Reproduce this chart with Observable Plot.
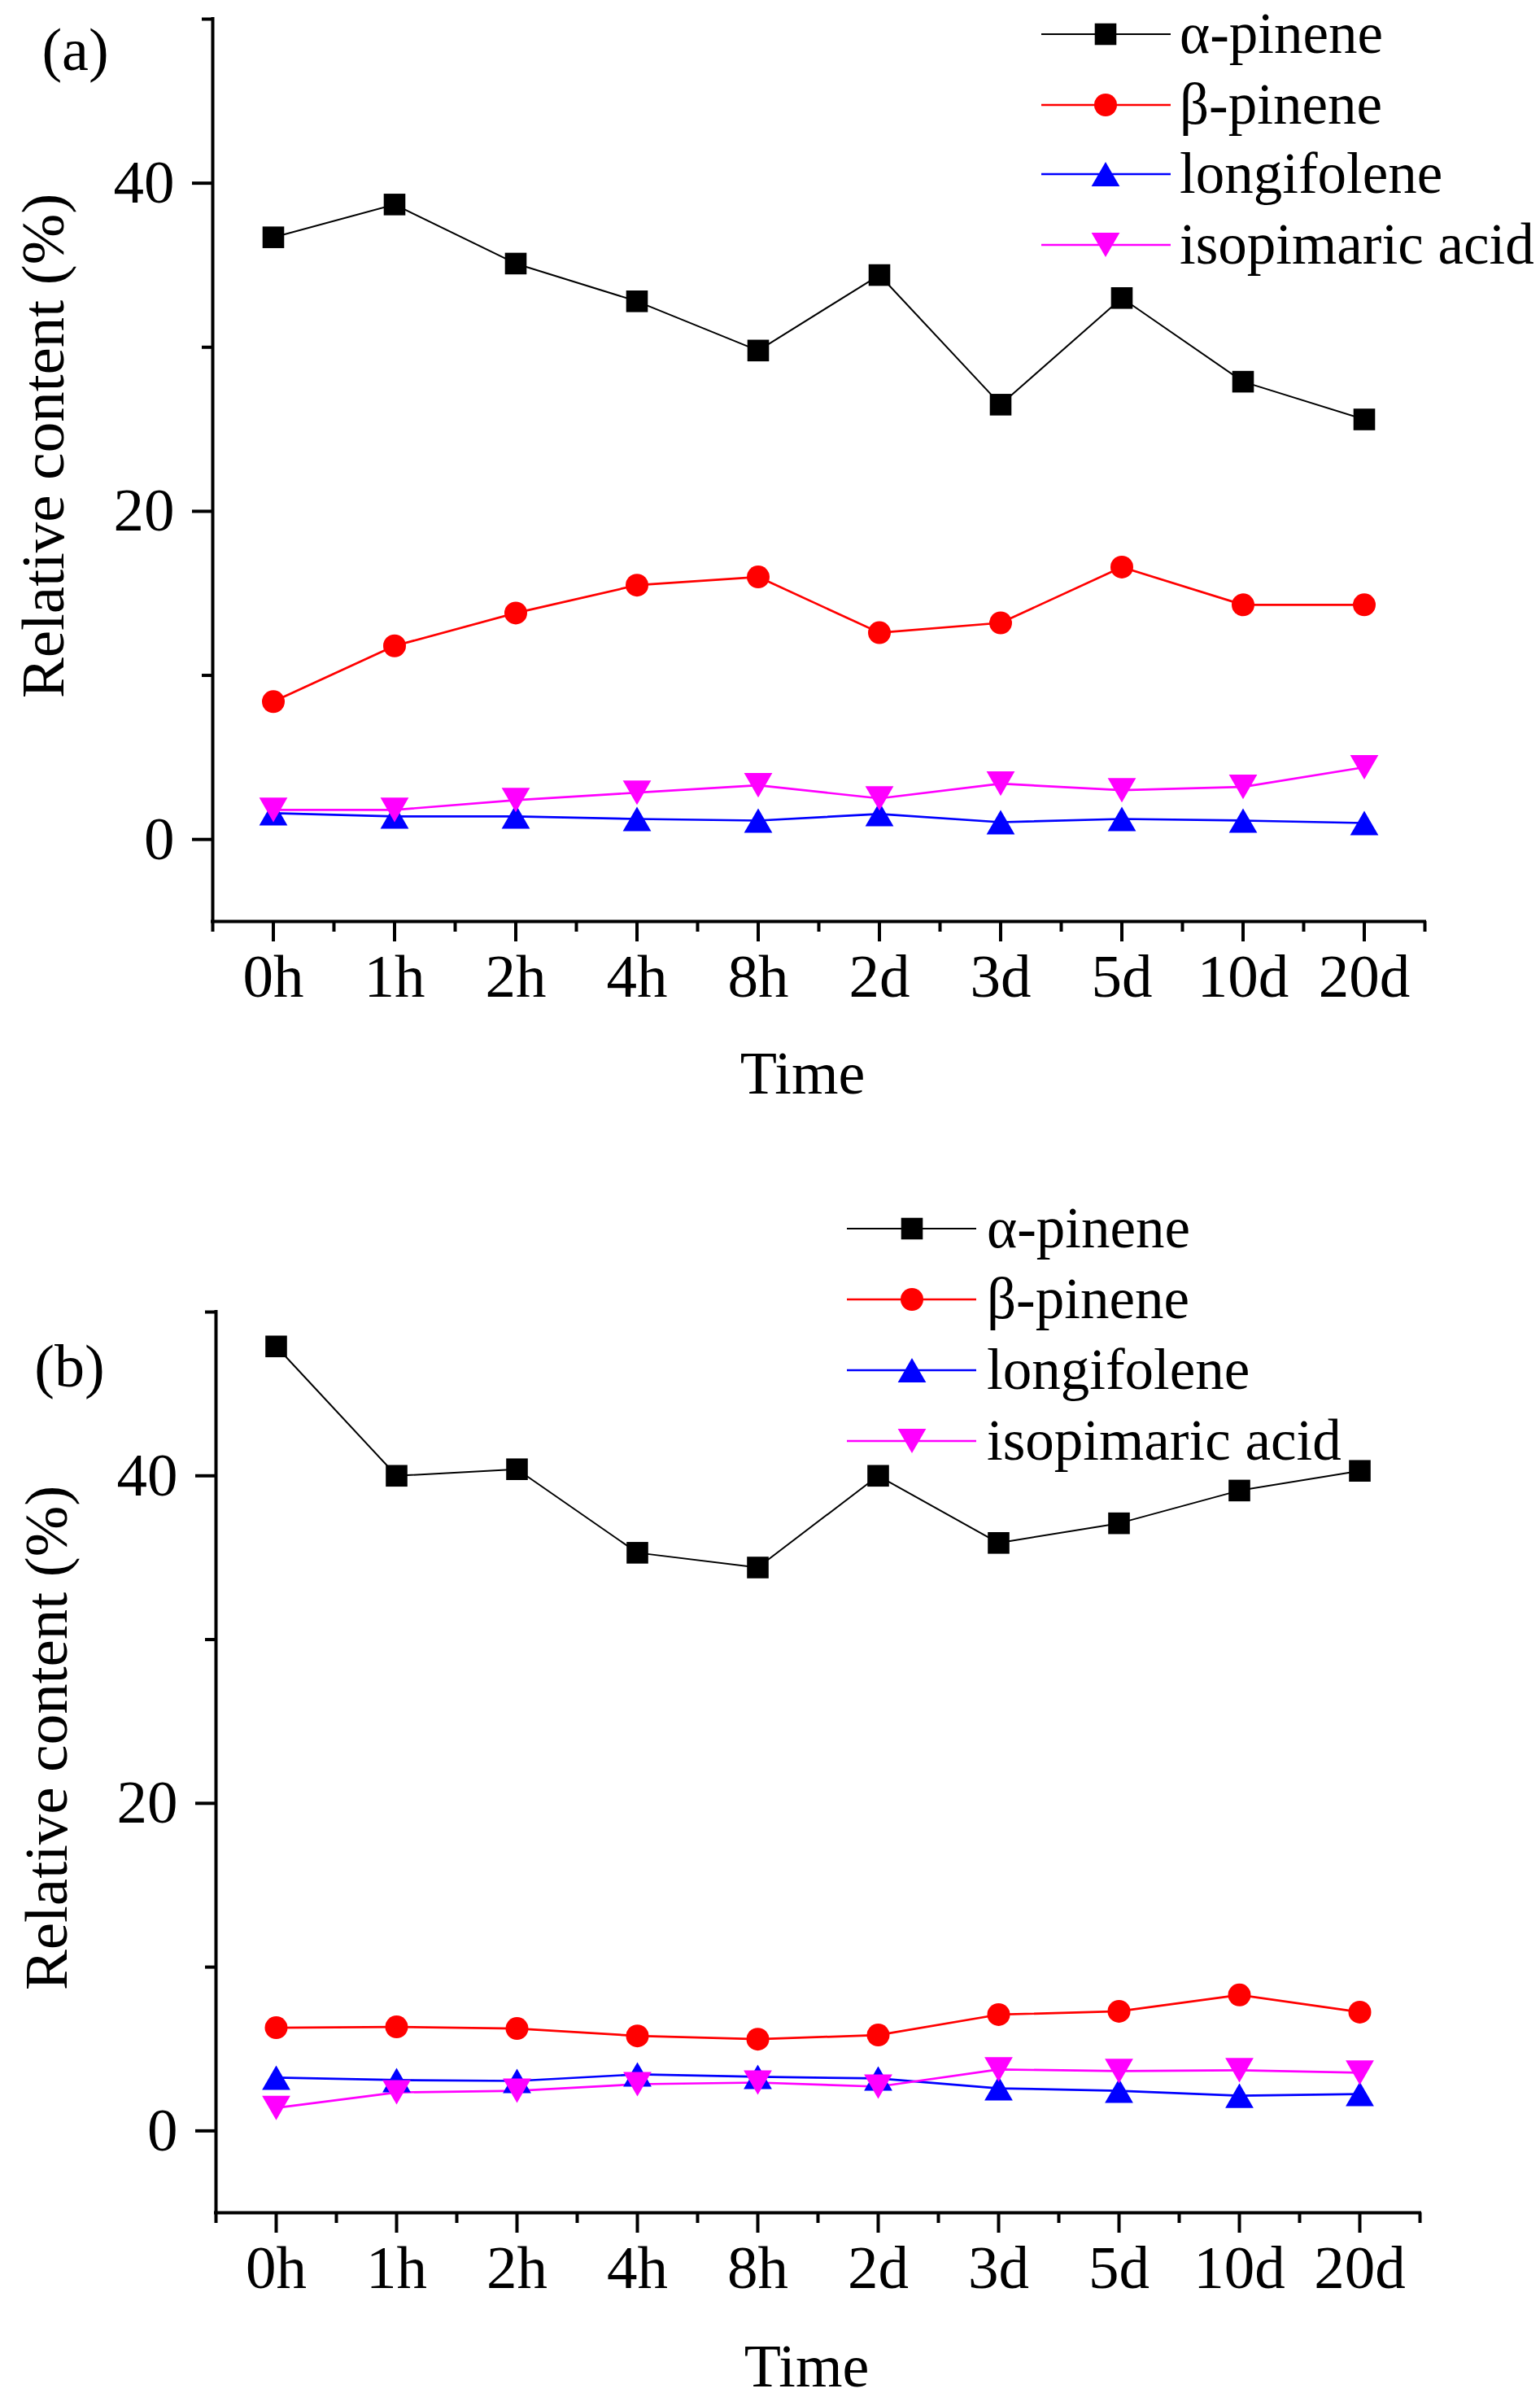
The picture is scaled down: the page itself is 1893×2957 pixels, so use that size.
<!DOCTYPE html>
<html><head><meta charset="utf-8">
<script src="https://cdn.jsdelivr.net/npm/d3@7"></script>
<script src="https://cdn.jsdelivr.net/npm/@observablehq/plot@0.6"></script>
<style>
body{margin:0;background:#fff}
#chart > div{line-height:0}
svg{display:block;overflow:visible}
</style>
</head><body><div id="chart"></div>
<script>
// ---- data ----
const timeLabels = ["0h","1h","2h","4h","8h","2d","3d","5d","10d","20d"];
const seriesNames = ["α-pinene","β-pinene","longifolene","isopimaric acid"];
const seriesColors = ["#000000","#ff0000","#0000ff","#ff00ff"];
const yTicksMajor = [0,20,40];
const yTicksMinor = [10,30,50];
const panelLabels = ["(a)","(b)"];

const aAlpha = [36.7,38.7,35.1,32.8,29.8,34.4,26.5,33.0,27.9,25.6];
const aBeta  = [8.4,11.8,13.8,15.5,16.0,12.6,13.2,16.6,14.3,14.3];
const aLongi = [1.6,1.4,1.4,1.25,1.15,1.55,1.05,1.25,1.15,1.0];
const aIso   = [1.8,1.8,2.4,2.85,3.3,2.5,3.4,3.0,3.2,4.4];

const bAlpha = [47.9,40.0,40.4,35.3,34.4,40.0,35.9,37.1,39.1,40.3];
const bBeta  = [6.3,6.35,6.25,5.8,5.6,5.85,7.1,7.3,8.3,7.25];
const bLongi = [3.25,3.1,3.05,3.45,3.3,3.2,2.6,2.45,2.15,2.25];
const bIso   = [1.4,2.35,2.45,2.85,2.95,2.7,3.75,3.65,3.7,3.55];

// ---- symbols ----
const triUp = {draw(ctx, size){const k=Math.sqrt(size/(3*Math.sqrt(3)));const w=Math.sqrt(3)*k;
  ctx.moveTo(0,-1.5*k);ctx.lineTo(w,1.5*k);ctx.lineTo(-w,1.5*k);ctx.closePath();}};
const triDown = {draw(ctx, size){const k=Math.sqrt(size/(3*Math.sqrt(3)));const w=Math.sqrt(3)*k;
  ctx.moveTo(0,1.5*k);ctx.lineTo(w,-1.5*k);ctx.lineTo(-w,-1.5*k);ctx.closePath();}};
const seriesSymbols = [d3.symbolSquare, d3.symbolCircle, triUp, triDown];
const seriesR = [15, 14, 12.9, 12.9];
const seriesLineW = [2, 2.7, 2.7, 2.7];

const FONT = "'Liberation Serif', 'Times New Roman', serif";

const panels = [
  {label: panelLabels[0], values: [aAlpha,aBeta,aLongi,aIso], height: 1478,
   mt: 23, mb: 346, ml: 261, mr: 142, labDx: -169, labDy: 39, timeDy: 188, timeDx: -20,
   leg: {x1: 1280, x2: 1439, mx: 1359, tx: 1450, rows: [42,129,214,301]}},
  {label: panelLabels[1], values: [bAlpha,bBeta,bLongi,bIso], height: 1479,
   mt: 134, mb: 238, ml: 265, mr: 148, labDx: -180, labDy: 68, timeDy: 190, timeDx: -14,
   leg: {x1: 1041, x2: 1200, mx: 1121, tx: 1213, rows: [32,119,206,293]}}
];

const xMajor = d3.range(timeLabels.length);
const xMinor = d3.range(timeLabels.length + 1).map(i => i - 0.5);

const chart = document.getElementById("chart");

for (const p of panels) {
  const marks = [
    Plot.ruleY([-5], {strokeWidth: 4, strokeLinecap: "square"}),
    Plot.ruleX([-0.5], {strokeWidth: 4, strokeLinecap: "square"}),
    Plot.axisX({ticks: xMajor, tickFormat: i => timeLabels[i], tickSize: 25, tickPadding: 14,
      strokeWidth: 4, fontSize: 75, label: null}),
    Plot.axisX({ticks: xMinor, tickFormat: () => "", tickSize: 13, strokeWidth: 4, label: null}),
    Plot.axisY({ticks: yTicksMajor, tickSize: 25, tickPadding: 22, strokeWidth: 4, fontSize: 75, label: null}),
    Plot.axisY({ticks: yTicksMinor, tickFormat: () => "", tickSize: 13, strokeWidth: 4, label: null})
  ];
  p.values.forEach((vals, s) => {
    const rows = vals.map((v, i) => ({t: i, v}));
    marks.push(Plot.line(rows, {x: "t", y: "v", stroke: seriesColors[s], strokeWidth: seriesLineW[s]}));
  });
  p.values.forEach((vals, s) => {
    const rows = vals.map((v, i) => ({t: i, v}));
    marks.push(Plot.dot(rows, {x: "t", y: "v", fill: seriesColors[s], stroke: "none",
      symbol: seriesSymbols[s], r: seriesR[s]}));
  });
  marks.push(
    Plot.text([p.label], {text: d => d, frameAnchor: "top-left", dx: p.labDx, dy: p.labDy,
      fontSize: 74, textAnchor: "middle", lineAnchor: "middle"}),
    Plot.text(["Time"], {text: d => d, frameAnchor: "bottom", dx: p.timeDx, dy: p.timeDy, fontSize: 74,
      textAnchor: "middle", lineAnchor: "middle"}),
    Plot.text(["Relative content (%)"], {text: d => d, frameAnchor: "left", rotate: -90,
      dx: -208, dy: -30, fontSize: 75, textAnchor: "middle", lineAnchor: "middle"})
  );

  const svg = Plot.plot({
    width: 1893, height: p.height,
    marginTop: p.mt, marginBottom: p.mb, marginLeft: p.ml, marginRight: p.mr,
    x: {type: "linear", domain: [-0.5, 9.5]},
    y: {type: "linear", domain: [-5, 50]},
    style: {fontFamily: FONT, fontSize: "74px", color: "#000", background: "#fff", overflow: "visible"},
    marks
  });

  // legend
  const g = d3.select(svg).append("g").attr("class", "legend").attr("text-anchor", "start");
  seriesNames.forEach((name, s) => {
    const y = p.leg.rows[s];
    g.append("line").attr("x1", p.leg.x1).attr("x2", p.leg.x2).attr("y1", y).attr("y2", y)
      .attr("stroke", seriesColors[s]).attr("stroke-width", seriesLineW[s]);
    g.append("path").attr("d", d3.symbol(seriesSymbols[s], Math.PI * seriesR[s] * seriesR[s])())
      .attr("transform", `translate(${p.leg.mx},${y})`).attr("fill", seriesColors[s]);
    g.append("text").attr("x", p.leg.tx).attr("y", y).attr("dy", "0.32em")
      .attr("text-anchor", "start")
      .attr("font-size", 71).attr("font-family", FONT).attr("fill", "#000").text(name);
  });

  const wrap = document.createElement("div");
  wrap.appendChild(svg);
  chart.appendChild(wrap);
}
</script>
</body></html>
